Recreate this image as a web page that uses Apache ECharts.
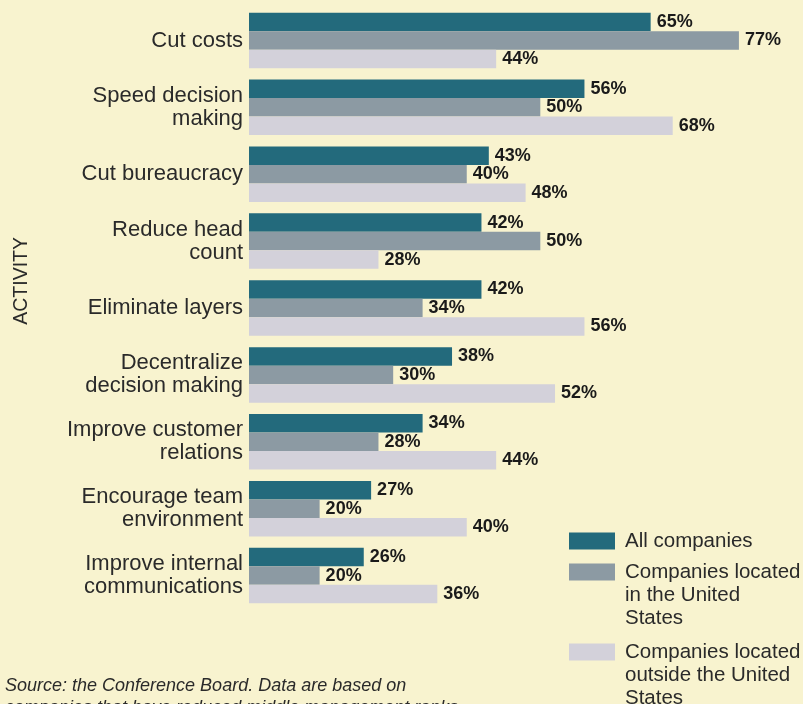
<!DOCTYPE html>
<html>
<head>
<meta charset="utf-8">
<script src="https://cdn.jsdelivr.net/npm/echarts@6/dist/echarts.min.js"></script>
<style>
  html, body { margin: 0; padding: 0; background: #f8f3cf; }
  #chart { width: 803px; height: 704px; }
</style>
</head>
<body>
<div id="chart"></div>
<script>
// ---- data ----
const categories = [
  'Cut costs',
  'Speed decision\nmaking',
  'Cut bureaucracy',
  'Reduce head\ncount',
  'Eliminate layers',
  'Decentralize\ndecision making',
  'Improve customer\nrelations',
  'Encourage team\nenvironment',
  'Improve internal\ncommunications'
];
const seriesNames = [
  'All companies',
  'Companies located in the United States',
  'Companies located outside the United States'
];
const legendLabels = [
  'All companies',
  'Companies located\nin the United\nStates',
  'Companies located\noutside the United\nStates'
];
const allCompanies   = [65, 56, 43, 42, 42, 38, 34, 27, 26];
const usCompanies    = [77, 50, 40, 50, 34, 30, 28, 20, 20];
const nonUsCompanies = [44, 68, 48, 28, 56, 52, 44, 40, 36];
const axisTitle = 'ACTIVITY';
const sourceNote = 'Source: the Conference Board. Data are based on\ncompanies that have reduced middle management ranks.';

// ---- chart ----
const FONT = '"Liberation Sans", Arial, sans-serif';
const colors = ['#236a7c', '#8c9aa3', '#d3d1da'];
const values = [allCompanies, usCompanies, nonUsCompanies];

const chart = echarts.init(document.getElementById('chart'), null, { renderer: 'canvas' });

function legendFor(i, top) {
  return {
    data: [seriesNames[i]],
    left: 569,
    top: top,
    padding: 0,
    orient: 'vertical',
    icon: 'rect',
    itemWidth: 46,
    itemHeight: 17,
    selectedMode: false,
    formatter: function () {
      const lbl = legendLabels[i];
      const n = lbl.split('\n').length;
      return '\n'.repeat(n - 1) + lbl;
    },
    textStyle: {
      fontFamily: FONT,
      fontSize: 20.5,
      lineHeight: 23,
      color: '#2a2a2a',
      padding: [0, 0, 0, 5]
    }
  };
}

chart.setOption({
  backgroundColor: '#f8f3cf',
  animation: false,
  color: colors,
  grid: { left: 249, top: 7, width: 512, height: 602, containLabel: false },
  xAxis: {
    type: 'value',
    min: 10.4,
    max: 80,
    show: false
  },
  yAxis: {
    type: 'category',
    data: categories,
    inverse: true,
    axisLine: { show: false },
    axisTick: { show: false },
    splitLine: { show: false },
    axisLabel: {
      fontFamily: FONT,
      fontSize: 22,
      lineHeight: 23,
      color: '#2a2a2a',
      margin: 6,
      align: 'right',
      padding: [5, 0, 0, 0]
    }
  },
  legend: [legendFor(0, 529.5), legendFor(1, 514.5), legendFor(2, 594.5)],
  graphic: [
    {
      type: 'text',
      left: 12,
      top: 237,
      rotation: Math.PI / 2,
      style: {
        text: axisTitle,
        font: '19.5px ' + FONT,
        fill: '#2a2a2a'
      }
    },
    {
      type: 'text',
      left: 5,
      top: 675,
      style: {
        text: sourceNote,
        font: 'italic 18px ' + FONT,
        lineHeight: 22,
        fill: '#2a2a2a'
      }
    }
  ],
  series: values.map(function (vals, i) {
    return {
      name: seriesNames[i],
      type: 'bar',
      data: vals,
      barWidth: 18.5,
      barGap: '0%',
      itemStyle: { color: colors[i] },
      label: {
        show: true,
        position: 'right',
        distance: 6,
        formatter: '{c}%',
        fontFamily: FONT,
        fontWeight: 'bold',
        fontSize: 18,
        color: '#1a1a1a'
      }
    };
  })
});
</script>
</body>
</html>
